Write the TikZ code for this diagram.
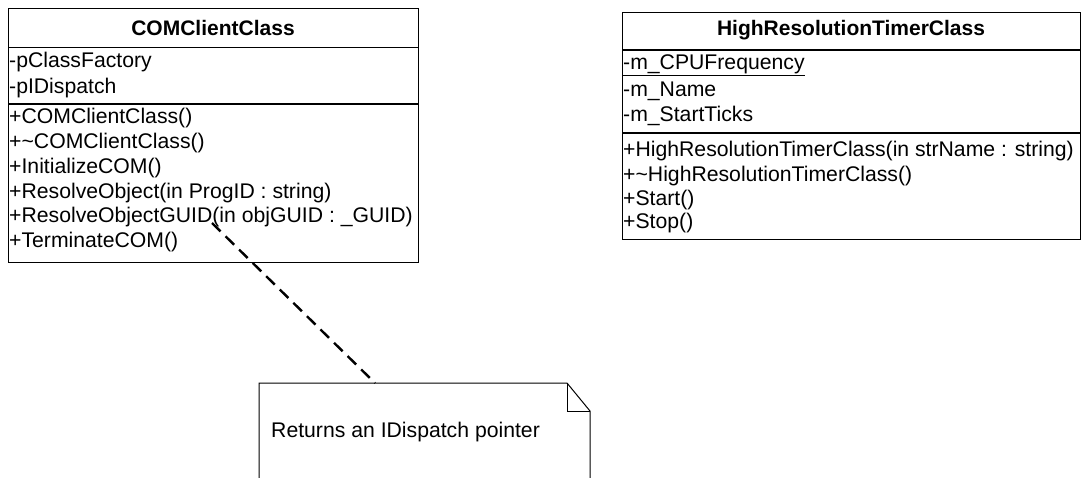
\documentclass[tikz,border=0pt]{standalone}
\usepackage{fontspec}
\setmainfont{Liberation Sans}
\begin{document}
\begin{tikzpicture}[x=1pt,y=-1pt,
  box/.style={draw,line width=1.2pt,anchor=north west,inner sep=0pt},
  sep/.style={line width=1.2pt},
  txt/.style={anchor=west,inner sep=0pt,font=\fontsize{21.2}{24}\selectfont},
  ttl/.style={anchor=center,inner sep=0pt,font=\fontsize{21}{24}\selectfont\bfseries},
  notedash/.style={line width=2.4pt,dash pattern=on 12pt off 7pt}]
\useasboundingbox (0,0) rectangle (1082,477);
% COMClientClass
\node[box,minimum width=410pt,minimum height=254pt] (c1) at (8,8) {};
\draw[sep] (8,47.5) -- (418,47.5);
\draw[sep] (8,104) -- (418,104);
\node[ttl] (c1t) at (213,28) {COMClientClass};
\node[txt] (c1a1) at (9,62) {-pClassFactory};
\node[txt] (c1a2) at (9,88) {-pIDispatch};
\node[txt] (c1m1) at (9,118) {+COMClientClass()};
\node[txt] (c1m2) at (9,143) {+\string~COMClientClass()};
\node[txt] (c1m3) at (9,168) {+InitializeCOM()};
\node[txt] (c1m4) at (9,193) {+ResolveObject(in ProgID : string)};
\node[txt] (c1m5) at (9,217) {+ResolveObjectGUID(in objGUID : \_GUID)};
\node[txt] (c1m6) at (9,242) {+TerminateCOM()};
% HighResolutionTimerClass
\node[box,minimum width=458pt,minimum height=227pt] (c2) at (622,12) {};
\draw[sep] (622,50) -- (1080,50);
\draw[sep] (622,133) -- (1080,133);
\node[ttl] (c2t) at (851,30) {HighResolutionTimerClass};
\node[txt] (c2a1) at (623,65) {\underline{-m\_CPUFrequency}};
\node[txt] (c2a2) at (623,91) {-m\_Name};
\node[txt] (c2a3) at (623,116) {-m\_StartTicks};
\node[txt] (c2m1) at (623,151) {+HighResolutionTimerClass(in strName : string)};
\node[txt] (c2m2) at (623,176) {+\string~HighResolutionTimerClass()};
\node[txt] (c2m3) at (623,200) {+Start()};
\node[txt] (c2m4) at (623,223) {+Stop()};
% Note
\coordinate (nTL) at (259,383);
\coordinate (nFold) at (567,383);
\coordinate (nFoldB) at (567,411);
\coordinate (nR) at (590,411);
\draw[line width=1pt] (259,490) -- (nTL) -- (nFold) -- (nR) -- (590,490);
\draw[line width=1pt] (nFold) -- (nFoldB) -- (nR);
\node[txt] (note) at (271,432) {Returns an IDispatch pointer};
% anchor connector
\coordinate (anc) at (212,223);
\coordinate (nattach) at (375,383);
\draw[notedash] (anc) -- (nattach);
\end{tikzpicture}
\end{document}
